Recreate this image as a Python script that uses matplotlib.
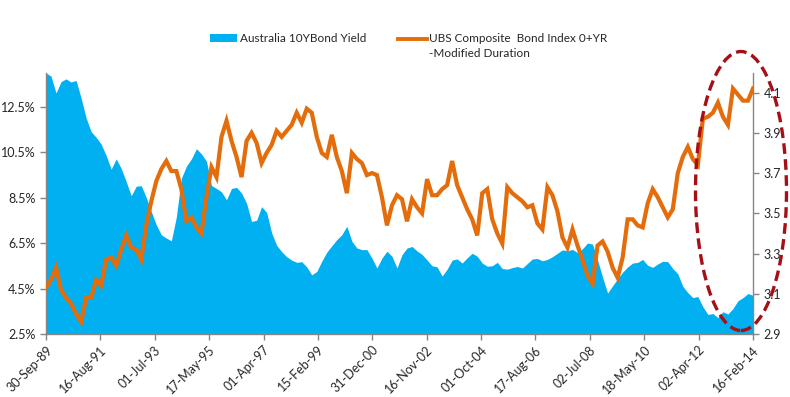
import matplotlib
matplotlib.use("Agg")
import matplotlib.pyplot as plt
from matplotlib.patches import Ellipse, Rectangle
from matplotlib.lines import Line2D
import pandas as pd

plt.rcParams['font.family'] = ['Lato', 'DejaVu Sans']

start_date = "1989-09-30"
end_date = "2014-02-16"

tick_labels = ["30-Sep-89", "16-Aug-91", "01-Jul-93", "17-May-95", "01-Apr-97",
               "15-Feb-99", "31-Dec-00", "16-Nov-02", "01-Oct-04", "17-Aug-06",
               "02-Jul-08", "18-May-10", "02-Apr-12", "16-Feb-14"]

# Australia 10Y bond yield (%)
au_yield = [13.98, 13.84, 13.10, 13.60, 13.72, 13.58, 13.65, 12.88, 12.00, 11.40,
            11.15, 10.85, 10.35, 9.75, 10.20, 9.78, 9.20, 8.58, 9.00, 9.02,
            8.50, 7.88, 7.30, 6.86, 6.72, 6.60, 7.65, 9.35, 9.88, 10.20,
            10.65, 10.42, 10.10, 9.03, 8.90, 8.75, 8.40, 8.90, 8.95, 8.70,
            8.25, 7.45, 7.50, 8.10, 7.85, 6.95, 6.40, 6.12, 5.90, 5.75,
            5.65, 5.68, 5.45, 5.10, 5.25, 5.70, 6.10, 6.38, 6.65, 6.87,
            7.24, 6.58, 6.28, 6.21, 6.21, 5.84, 5.40, 5.84, 6.14, 5.92,
            5.40, 5.99, 6.28, 6.35, 6.15, 6.00, 5.75, 5.50, 5.45, 5.05,
            5.35, 5.75, 5.80, 5.62, 5.85, 6.05, 5.92, 5.62, 5.48, 5.50,
            5.65, 5.38, 5.35, 5.42, 5.47, 5.40, 5.60, 5.80, 5.82, 5.72,
            5.78, 5.90, 6.05, 6.20, 6.16, 6.22, 6.08, 6.25, 6.50, 6.45,
            5.75, 5.00, 4.30, 4.62, 4.93, 5.22, 5.45, 5.62, 5.65, 5.78,
            5.52, 5.43, 5.58, 5.70, 5.68, 5.38, 5.15, 4.60, 4.32, 4.10,
            4.15, 3.70, 3.36, 3.40, 3.22, 3.48, 3.38, 3.62, 3.96, 4.10,
            4.28, 4.20]

# UBS Composite Bond Index 0+YR modified duration
ubs_duration = [3.13, 3.17, 3.23, 3.12, 3.08, 3.05, 3.00, 2.96, 3.08, 3.08,
                3.17, 3.14, 3.27, 3.28, 3.24, 3.32, 3.39, 3.33, 3.32, 3.27,
                3.44, 3.56, 3.66, 3.72, 3.76, 3.71, 3.71, 3.62, 3.46, 3.48,
                3.43, 3.40, 3.58, 3.73, 3.68, 3.88, 3.96, 3.86, 3.78, 3.68,
                3.86, 3.90, 3.85, 3.75, 3.80, 3.84, 3.91, 3.88, 3.91, 3.94,
                4.00, 3.95, 4.02, 4.00, 3.88, 3.80, 3.78, 3.89, 3.78, 3.71,
                3.60, 3.80, 3.77, 3.75, 3.69, 3.70, 3.69, 3.58, 3.44, 3.54,
                3.59, 3.57, 3.46, 3.57, 3.53, 3.50, 3.67, 3.59, 3.59, 3.62,
                3.64, 3.76, 3.64, 3.58, 3.52, 3.47, 3.39, 3.60, 3.62, 3.47,
                3.40, 3.35, 3.63, 3.60, 3.58, 3.56, 3.53, 3.54, 3.45, 3.42,
                3.63, 3.59, 3.51, 3.38, 3.33, 3.42, 3.34, 3.27, 3.19, 3.15,
                3.34, 3.36, 3.31, 3.23, 3.18, 3.28, 3.47, 3.47, 3.44, 3.43,
                3.55, 3.62, 3.58, 3.53, 3.48, 3.52, 3.70, 3.78, 3.83, 3.77,
                3.74, 3.97, 3.98, 4.00, 4.05, 3.98, 3.94, 4.12, 4.09, 4.06,
                4.06, 4.12]

yield_ticks = [2.5, 4.5, 6.5, 8.5, 10.5, 12.5]
dur_ticks = [2.9, 3.1, 3.3, 3.5, 3.7, 3.9, 4.1]

BLUE = "#00B0F0"
ORANGE = "#E46C0A"
AXIS = "#868686"
TXT = "#262626"

dates = pd.date_range(start_date, end_date, periods=len(au_yield))
dates2 = pd.date_range(start_date, end_date, periods=len(ubs_duration))
tick_dates = pd.to_datetime(tick_labels, format="%d-%b-%y")

W, H = 790, 397
fig = plt.figure(figsize=(W / 100, H / 100), dpi=100)
ax = fig.add_axes([46 / W, 1 - 334 / H, (753 - 46) / W, (334 - 72.5) / H])
ax2 = ax.twinx()

ax.fill_between(dates, 0, au_yield, color=BLUE, lw=0, zorder=2)
ax2.plot(dates2, ubs_duration, color=ORANGE, lw=3.0, zorder=3, solid_joinstyle='miter')

ax.set_xlim(pd.Timestamp(start_date), pd.Timestamp(end_date))
ax.set_ylim(2.5, 14.0)
ax2.set_ylim(2.9, 4.2)

ax.set_yticks(yield_ticks)
ax.set_yticklabels([f"{v:.1f}%" for v in yield_ticks])
ax2.set_yticks(dur_ticks)
ax2.set_yticklabels([f"{v:.1f}" for v in dur_ticks])

ax.set_xticks(tick_dates)
ax.set_xticklabels(tick_labels, rotation=45, ha='right', va='top',
                   rotation_mode='anchor')

for a in (ax, ax2):
    a.spines['top'].set_visible(False)
    for s in ('left', 'right', 'bottom'):
        a.spines[s].set_color(AXIS)
        a.spines[s].set_linewidth(1.0)
    a.tick_params(colors=AXIS, labelcolor=TXT, labelsize=9, length=4, width=1)
ax.tick_params(axis='x', pad=3)
ax.spines['right'].set_visible(False)
ax2.spines['left'].set_visible(False)
ax2.spines['bottom'].set_visible(False)
ax.set_zorder(1)
ax2.set_zorder(2)
ax.patch.set_visible(False)

# Legend (manual)
fig.patches.append(Rectangle((210 / W, 1 - 42 / H), 27 / W, 8 / H, transform=fig.transFigure,
                             color=BLUE, lw=0))
fig.text(240 / W, 1 - 38.5 / H, "Australia 10YBond Yield", fontsize=8.5, va='center', ha='left',
         color=TXT)
fig.lines.append(Line2D([398 / W, 427 / W], [1 - 38.5 / H, 1 - 38.5 / H], transform=fig.transFigure,
                        color=ORANGE, lw=2.8))
fig.text(429 / W, 1 - 38.5 / H, "UBS Composite  Bond Index 0+YR", fontsize=8.5, va='center',
         ha='left', color=TXT)
fig.text(429 / W, 1 - 53.5 / H, "-Modified Duration", fontsize=8.5, va='center', ha='left',
         color=TXT)

# Highlight ellipse
fig.patches.append(Ellipse((741 / W, 1 - 191 / H), 91 / W, 279 / H, transform=fig.transFigure,
                           fill=False, edgecolor='#A50F15', lw=2.4,
                           linestyle=(0, (3.2, 1.6)), zorder=10))

fig.savefig("out.png", dpi=100)
